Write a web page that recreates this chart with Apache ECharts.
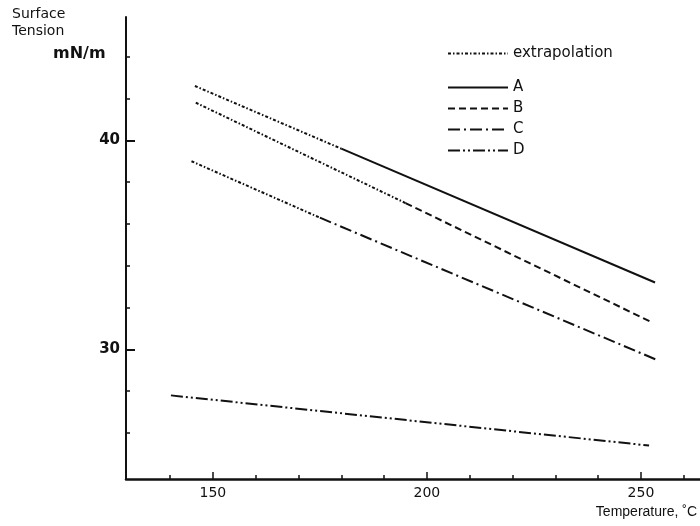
<!DOCTYPE html>
<html>
<head>
<meta charset="utf-8">
<script src="https://cdn.jsdelivr.net/npm/echarts@6/dist/echarts.min.js"></script>
<style>
  html, body { margin: 0; padding: 0; background: #fff; }
  #chart { width: 700px; height: 526px; }
</style>
</head>
<body>
<div id="chart"></div>
<script>
// values: [temperature C, surface tension mN/m]
const extrapA = [[145.8, 42.6], [180, 39.6]];
const lineA = [[180, 39.6], [253.3, 33.2]];
const extrapB = [[146, 41.8], [195, 37.0]];
const lineB = [[195, 37.0], [252.5, 31.3]];
const extrapC = [[145, 39.0], [175, 36.3]];
const lineC = [[175, 36.3], [253.7, 29.5]];
const lineD = [[140.2, 27.8], [251.9, 25.4]];

const xMajor = [150, 200, 250];
const xMinor = [140, 160, 170, 180, 190, 210, 220, 230, 240, 260];
const yMajor = [30, 40];
const yMinor = [26, 28, 32, 34, 36, 38, 42, 44];

const font = 'DejaVu Sans';
const ink = '#111';

var dom = document.getElementById('chart');
var myChart = echarts.init(dom, null, { renderer: 'canvas' });

const mkLine = (name, data, dash) => ({
    name: name,
    type: 'line',
    data: data,
    symbol: 'none',
    showSymbol: false,
    silent: true,
    lineStyle: { color: ink, width: 2, type: dash },
    itemStyle: { color: ink }
});

const baseX = {
    type: 'value',
    position: 'bottom',
    min: 129.7,
    max: 263.8,
    splitLine: { show: false },
    axisLine: { show: true, lineStyle: { color: ink, width: 2.5 } }
};
const baseY = {
    type: 'value',
    position: 'left',
    min: 23.8,
    max: 45.9,
    splitLine: { show: false },
    axisLine: { show: true, lineStyle: { color: ink, width: 2 } }
};

const extrapDash = [3, 2, 1.5, 2];
const legendText = { fontFamily: font, fontSize: 15, color: ink };

const option = {
    animation: false,
    backgroundColor: '#fff',
    grid: { left: 126, right: 0, top: 17, bottom: 47 },
    title: [
        {
            text: 'Surface\nTension',
            left: 12, top: 6, padding: 0,
            textStyle: { fontFamily: font, fontSize: 14, fontWeight: 'normal', color: ink, lineHeight: 17 }
        },
        {
            text: 'mN/m',
            left: 53, top: 46, padding: 0,
            textStyle: { fontFamily: font, fontSize: 16, fontWeight: 'bold', color: ink }
        },
        {
            text: 'Temperature, ˚C',
            right: 3, top: 505, padding: 0,
            textStyle: { fontFamily: 'Liberation Sans', fontSize: 14, fontWeight: 'normal', color: ink }
        }
    ],
    legend: [
        {
            data: ['extrapolation'],
            left: 447, top: 46, padding: 0,
            itemWidth: 60, itemHeight: 14,
            itemStyle: { opacity: 0 },
            textStyle: legendText
        },
        {
            data: ['A', 'B', 'C', 'D'],
            orient: 'vertical',
            left: 447, top: 80, padding: 0,
            itemWidth: 60, itemHeight: 14, itemGap: 6,
            itemStyle: { opacity: 0 },
            textStyle: legendText
        }
    ],
    xAxis: [
        Object.assign({}, baseX, {
            axisTick: { show: true, inside: true, length: 7, customValues: xMajor, lineStyle: { color: ink, width: 1.5 } },
            axisLabel: { show: true, customValues: xMajor, margin: 7, fontFamily: font, fontSize: 14, color: ink }
        }),
        Object.assign({}, baseX, {
            axisLine: { show: false },
            axisTick: { show: true, inside: true, length: 4, customValues: xMinor, lineStyle: { color: ink, width: 1.5 } },
            axisLabel: { show: false }
        })
    ],
    yAxis: [
        Object.assign({}, baseY, {
            axisTick: { show: true, inside: true, length: 9, customValues: yMajor, lineStyle: { color: ink, width: 2 } },
            axisLabel: { show: true, customValues: yMajor, margin: 6, fontFamily: font, fontSize: 15, fontWeight: 'bold', color: ink }
        }),
        Object.assign({}, baseY, {
            axisLine: { show: false },
            axisTick: { show: true, inside: true, length: 4, customValues: yMinor, lineStyle: { color: ink, width: 1.5 } },
            axisLabel: { show: false }
        })
    ],
    series: [
        mkLine('extrapolation', extrapA, extrapDash),
        mkLine('extrapolation', extrapB, extrapDash),
        mkLine('extrapolation', extrapC, extrapDash),
        mkLine('A', lineA, 'solid'),
        mkLine('B', lineB, [7, 4]),
        mkLine('C', lineC, [12, 4, 2, 4]),
        mkLine('D', lineD, [12, 3, 2, 3, 2, 3])
    ]
};

myChart.setOption(option);
</script>
</body>
</html>
